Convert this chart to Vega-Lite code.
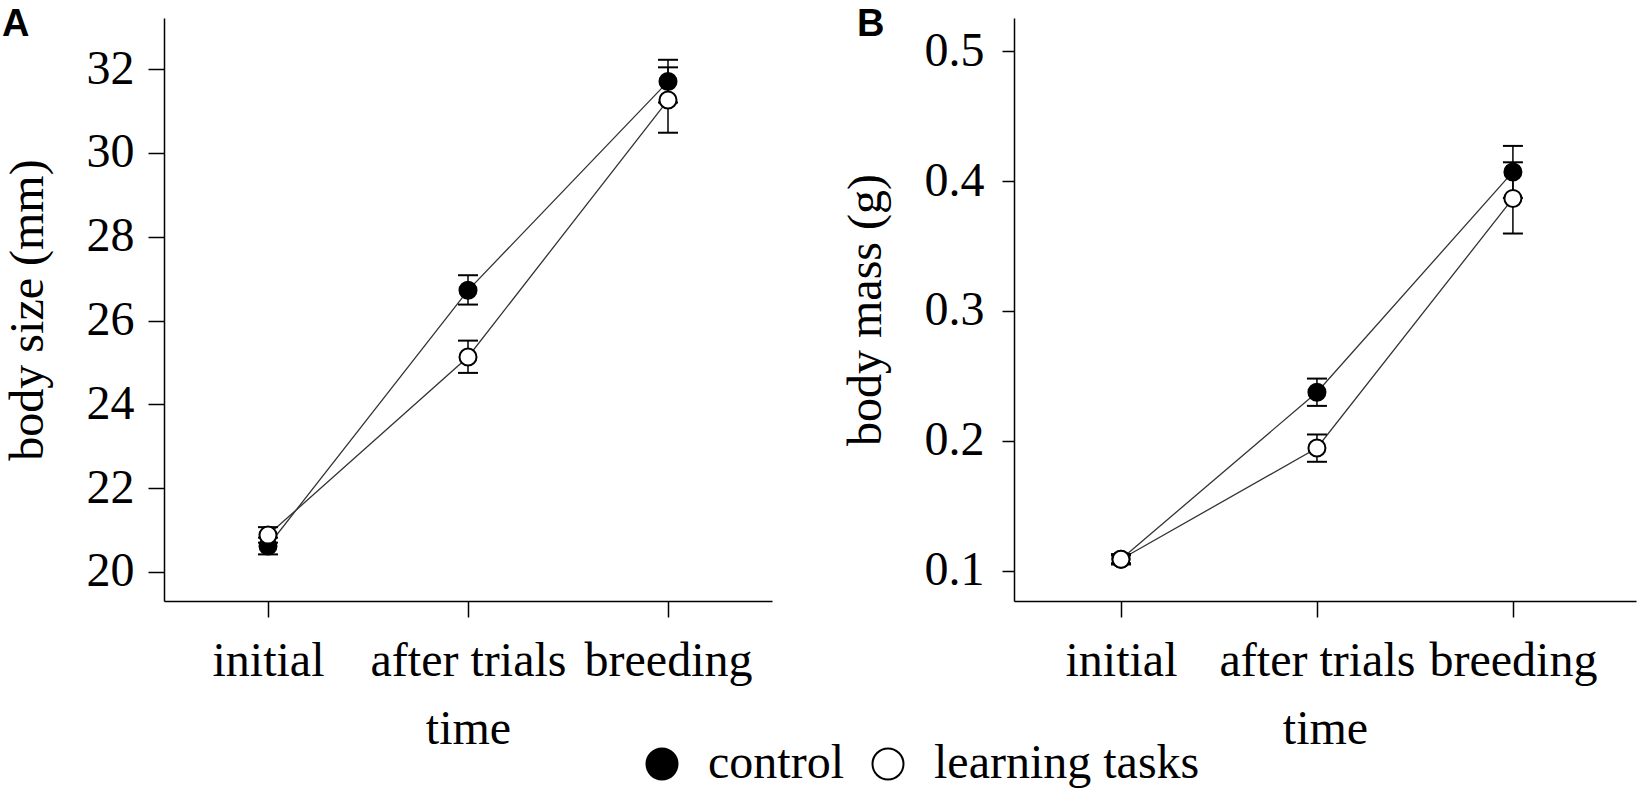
{
  "$schema": "https://vega.github.io/schema/vega-lite/v6.json",
  "background": "white",
  "padding": {"left": 2, "top": 6, "right": 2, "bottom": 2},
  "config": {
    "view": {"stroke": null},
    "font": "Liberation Serif",
    "axis": {
      "domainColor": "black", "domainWidth": 1.5,
      "tickColor": "black", "tickWidth": 1.5, "tickSize": 16,
      "labelFont": "Liberation Serif", "labelFontSize": 48, "labelColor": "black", "labelLimit": 400,
      "titleFont": "Liberation Serif", "titleFontSize": 48, "titleFontWeight": "normal", "titleColor": "black",
      "grid": false, "labelPadding": 14
    },
    "axisX": {"labelAngle": 0, "labelPadding": 20, "titlePadding": 20},
    "axisY": {"titlePadding": 34},
    "title": {"font": "Liberation Sans", "fontSize": 38, "fontWeight": "bold", "anchor": "start", "frame": "group", "color": "black"}
  },
  "datasets": {
    "size": [
      {"time": "initial", "group": "control", "mean": 20.62, "lo": 20.42, "hi": 20.82},
      {"time": "after trials", "group": "control", "mean": 26.72, "lo": 26.38, "hi": 27.08},
      {"time": "breeding", "group": "control", "mean": 31.7, "lo": 31.2, "hi": 32.22},
      {"time": "initial", "group": "learning tasks", "mean": 20.88, "lo": 20.7, "hi": 21.07},
      {"time": "after trials", "group": "learning tasks", "mean": 25.13, "lo": 24.75, "hi": 25.52},
      {"time": "breeding", "group": "learning tasks", "mean": 31.26, "lo": 30.48, "hi": 32.04}
    ],
    "mass": [
      {"time": "initial", "group": "control", "mean": 0.109, "lo": 0.105, "hi": 0.113},
      {"time": "after trials", "group": "control", "mean": 0.2375, "lo": 0.227, "hi": 0.248},
      {"time": "breeding", "group": "control", "mean": 0.407, "lo": 0.387, "hi": 0.427},
      {"time": "initial", "group": "learning tasks", "mean": 0.109, "lo": 0.106, "hi": 0.112},
      {"time": "after trials", "group": "learning tasks", "mean": 0.1946, "lo": 0.184, "hi": 0.205},
      {"time": "breeding", "group": "learning tasks", "mean": 0.3866, "lo": 0.3596, "hi": 0.4144}
    ]
  },
  "bounds": "flush",
  "spacing": 242,
  "resolve": {"legend": {"fill": "independent"}},
  "hconcat": [
    {
      "title": {"text": "A", "dx": -162, "baseline": "top", "offset": -26},
      "width": 608,
      "height": 583,
      "data": {"name": "size"},
      "encoding": {
        "x": {
          "field": "time", "type": "ordinal",
          "sort": ["initial", "after trials", "breeding"],
          "scale": {"type": "point", "padding": 0.52},
          "axis": {"title": "time"}
        }
      },
      "layer": [
        {
          "mark": {"type": "line", "color": "#333", "strokeWidth": 1.3},
          "encoding": {
            "y": {
              "field": "mean", "type": "quantitative",
              "scale": {"domain": [19.308, 33.217], "nice": false, "zero": false},
              "axis": {"title": "body size (mm)", "values": [20, 22, 24, 26, 28, 30, 32]}
            },
            "detail": {"field": "group"}
          }
        },
        {
          "mark": {"type": "rule", "color": "black", "strokeWidth": 1.5},
          "encoding": {"y": {"field": "lo", "type": "quantitative"}, "y2": {"field": "hi"}}
        },
        {
          "mark": {"type": "tick", "color": "black", "thickness": 2, "size": 20, "orient": "horizontal", "opacity": 1},
          "encoding": {"y": {"field": "lo", "type": "quantitative"}}
        },
        {
          "mark": {"type": "tick", "color": "black", "thickness": 2, "size": 20, "orient": "horizontal", "opacity": 1},
          "encoding": {"y": {"field": "hi", "type": "quantitative"}}
        },
        {
          "mark": {"type": "point", "shape": "circle", "filled": true, "size": 290, "stroke": "black", "strokeWidth": 2, "opacity": 1},
          "encoding": {
            "y": {"field": "mean", "type": "quantitative"},
            "fill": {
              "field": "group", "type": "nominal",
              "scale": {"domain": ["control", "learning tasks"], "range": ["black", "white"]},
              "legend": {
                "orient": "none", "legendX": 474, "legendY": 722,
                "direction": "horizontal", "title": null,
                "symbolType": "circle", "symbolSize": 960,
                "symbolStrokeColor": "black", "symbolStrokeWidth": 2, "symbolOpacity": 1,
                "labelFont": "Liberation Serif", "labelFontSize": 48, "labelColor": "black",
                "labelOffset": 22, "columnPadding": 20, "labelLimit": 400
              }
            }
          }
        }
      ]
    },
    {
      "title": {"text": "B", "dx": -157, "baseline": "top", "offset": -26},
      "width": 622,
      "height": 583,
      "data": {"name": "mass"},
      "encoding": {
        "x": {
          "field": "time", "type": "ordinal",
          "sort": ["initial", "after trials", "breeding"],
          "scale": {"type": "point", "padding": 0.587, "align": 0.465},
          "axis": {"title": "time"}
        }
      },
      "layer": [
        {
          "mark": {"type": "line", "color": "#333", "strokeWidth": 1.3},
          "encoding": {
            "y": {
              "field": "mean", "type": "quantitative",
              "scale": {"domain": [0.0769, 0.5254], "nice": false, "zero": false},
              "axis": {"title": "body mass (g)", "values": [0.1, 0.2, 0.3, 0.4, 0.5], "format": ".1f", "tickSize": 12, "labelPadding": 18}
            },
            "detail": {"field": "group"}
          }
        },
        {
          "mark": {"type": "rule", "color": "black", "strokeWidth": 1.5},
          "encoding": {"y": {"field": "lo", "type": "quantitative"}, "y2": {"field": "hi"}}
        },
        {
          "mark": {"type": "tick", "color": "black", "thickness": 2, "size": 20, "orient": "horizontal", "opacity": 1},
          "encoding": {"y": {"field": "lo", "type": "quantitative"}}
        },
        {
          "mark": {"type": "tick", "color": "black", "thickness": 2, "size": 20, "orient": "horizontal", "opacity": 1},
          "encoding": {"y": {"field": "hi", "type": "quantitative"}}
        },
        {
          "mark": {"type": "point", "shape": "circle", "filled": true, "size": 290, "stroke": "black", "strokeWidth": 2, "opacity": 1},
          "encoding": {
            "y": {"field": "mean", "type": "quantitative"},
            "fill": {
              "field": "group", "type": "nominal",
              "scale": {"domain": ["control", "learning tasks"], "range": ["black", "white"]},
              "legend": null
            }
          }
        }
      ]
    }
  ]
}
